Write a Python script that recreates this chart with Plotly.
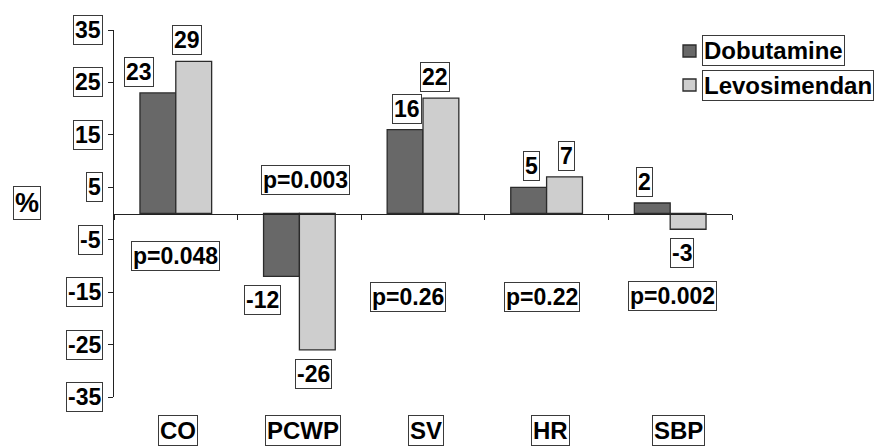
import plotly.graph_objects as go

# ---- data ----
categories = ["CO", "PCWP", "SV", "HR", "SBP"]
series_names = ["Dobutamine", "Levosimendan"]
dobutamine = [23, -12, 16, 5, 2]
levosimendan = [29, -26, 22, 7, -3]
p_values = ["p=0.048", "p=0.003", "p=0.26", "p=0.22", "p=0.002"]
y_ticks = [35, 25, 15, 5, -5, -15, -25, -35]
y_title = "%"

# ---- style / layout ----
W, H = 877, 446
ML, MR, MT, MB = 114, 145, 30, 49
PW, PH = W - ML - MR, H - MT - MB
FONT = "Liberation Sans, Arial, sans-serif"
DARK, LIGHT, EDGE = "#686868", "#cecece", "#2b2b2b"
BOX = "#3a3a3a"
BARGAP = 0.42
OFF = (1 - BARGAP) / 4  # center offset of each bar within group
FS = 23


def px_x(px):
    return (px - ML) / PW


def px_y(py):
    return 1 - (py - MT) / PH


fig = go.Figure()
for name, vals, col in [(series_names[0], dobutamine, DARK),
                        (series_names[1], levosimendan, LIGHT)]:
    fig.add_trace(go.Bar(x=categories, y=vals, name=name, marker_color=col,
                         marker_line_color=EDGE, marker_line_width=1.3,
                         showlegend=False))

ann = []
box = dict(bordercolor=BOX, borderwidth=1, borderpad=1, bgcolor="white",
           showarrow=False)

# y tick labels (boxed)
for t in y_ticks:
    ann.append(dict(xref="paper", yref="y", x=0, y=t, xshift=-11,
                    xanchor="right", yanchor="middle", text=f"<b>{t}</b>",
                    font=dict(family=FONT, size=FS, color="black"), **box))

# y title
ann.append(dict(xref="paper", yref="paper", x=px_x(27), y=px_y(203),
                xanchor="center", yanchor="middle", text=f"<b>{y_title}</b>",
                font=dict(family=FONT, size=27, color="black"), **box))

# category labels
cat_shift = [2, 4, 3, 4, 8]
for i, c in enumerate(categories):
    ann.append(dict(xref="x", yref="paper", x=i, y=0, yshift=-33,
                    xshift=cat_shift[i], xanchor="center", yanchor="middle",
                    text=f"<b>{c}</b>",
                    font=dict(family=FONT, size=24, color="black"), **box))

# value labels
d_shift = [-19, -19, 2, 3, -8]
l_shift = [-7, -4, -6, 2, -6]
for i in range(len(categories)):
    for vals, off, xs in [(dobutamine, -OFF, d_shift), (levosimendan, OFF, l_shift)]:
        v = vals[i]
        ann.append(dict(xref="x", yref="y", x=i + off, y=v,
                        yshift=21 if v >= 0 else -24, xshift=xs[i],
                        xanchor="center", yanchor="middle", text=f"<b>{v}</b>",
                        font=dict(family=FONT, size=FS, color="black"), **box))

# p-value labels
p_pos = [(-8.2, 0), (6.4, 6), (-16, -15), (-16, -5), (-15.8, 2)]
for i, p in enumerate(p_values):
    yv, xs = p_pos[i]
    ann.append(dict(xref="x", yref="y", x=i, y=yv, xshift=xs,
                    xanchor="center", yanchor="middle", text=f"<b>{p}</b>",
                    font=dict(family=FONT, size=FS, color="black"), **box))

# legend (manual, boxed entries)
shapes = []
leg_rows = [(series_names[0], DARK, 51), (series_names[1], LIGHT, 85)]
for name, col, cy in leg_rows:
    shapes.append(dict(type="rect", xref="paper", yref="paper",
                       x0=px_x(683), x1=px_x(696), y0=px_y(cy + 6), y1=px_y(cy - 6),
                       fillcolor=col, line=dict(color=EDGE, width=1.3)))
    ann.append(dict(xref="paper", yref="paper", x=px_x(702), y=px_y(cy),
                    xanchor="left", yanchor="middle", text=f"<b>{name}</b>",
                    font=dict(family=FONT, size=24, color="black"), **box))

fig.update_layout(
    width=W, height=H, margin=dict(l=ML, r=MR, t=MT, b=MB),
    paper_bgcolor="white", plot_bgcolor="white",
    barmode="group", bargap=BARGAP, bargroupgap=0,
    annotations=ann, shapes=shapes, showlegend=False,
    xaxis=dict(type="category", categoryarray=categories, anchor="free",
               position=0.5, showline=True, linecolor="#222", linewidth=1.3,
               ticks="outside", tickson="boundaries", ticklen=5,
               tickcolor="#222", showticklabels=False, showgrid=False,
               zeroline=False),
    yaxis=dict(range=[-35, 35], tickvals=y_ticks, showticklabels=False,
               ticks="outside", ticklen=5, tickcolor="#222", showline=True,
               linecolor="#222", linewidth=1.3, showgrid=False, zeroline=False),
)

fig.write_html("out.html", config={"displayModeBar": False},
               post_script="document.body.style.margin='0';document.body.style.padding='0';")
